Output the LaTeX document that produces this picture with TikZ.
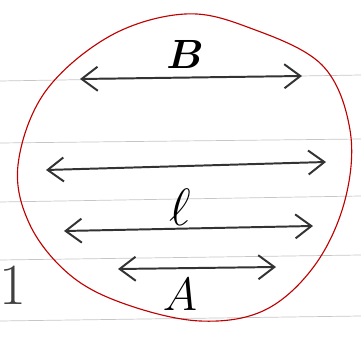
\documentclass[tikz,border=0pt]{standalone}
\usepackage{amsmath}
\usepackage{tikz}
\usetikzlibrary{arrows.meta,positioning}
\newcommand{\handtext}[2][1.35]{\scalebox{#1}{#2}}

\begin{document}
\begin{tikzpicture}[x=0.025cm,y=-0.025cm,
ruling/.style={gray!45, line width=0.5pt},
barbline/.style={{Straight Barb[length=4mm,width=6mm]}-{Straight Barb[length=4mm,width=6mm]}, line width=1.4pt, black!80},
hand/.style={font=\huge, inner sep=0pt}
]
\useasboundingbox (0,0) rectangle (361,339);
% ruled paper
\draw[ruling] (0,81) -- (361,75);
\draw[ruling] (0,143) -- (361,139);
\draw[ruling] (0,202) -- (361,196);
\draw[ruling] (0,260) -- (361,255);
\draw[ruling] (0,321) -- (361,316);
% the red outline
\draw[red!75!black, line width=0.8pt] plot[smooth cycle, tension=0.6] coordinates {
(185,14) (110,36) (45,92) (18,165) (30,225) (70,275) (125,304) (200,321)
(265,310) (315,265) (345,200) (350,130) (322,65) (250,28)};
% arrows and labels
\coordinate (bL) at (80,79);
\coordinate (bR) at (302,76);
\coordinate (mL) at (46,170);
\coordinate (mR) at (326,162);
\coordinate (lL) at (64,231);
\coordinate (lR) at (313,226);
\coordinate (aL) at (118,269);
\coordinate (aR) at (276,267);
\draw[barbline] (bL) -- (bR);
\draw[barbline] (mL) -- (mR);
\draw[barbline] (lL) -- (lR);
\draw[barbline] (aL) -- (aR);
\node[hand] (labB) at (185,54) {\handtext[1.4]{$\boldsymbol{B}$}};
\node[hand] (labl) at (180,207) {\handtext[1.8]{$\ell$}};
\node[hand] (labA) at (180,295) {\handtext[1.6]{$A$}};
\node[hand, black!75] (one) at (13,285) {\handtext[2]{1}};
\end{tikzpicture}
\end{document}
